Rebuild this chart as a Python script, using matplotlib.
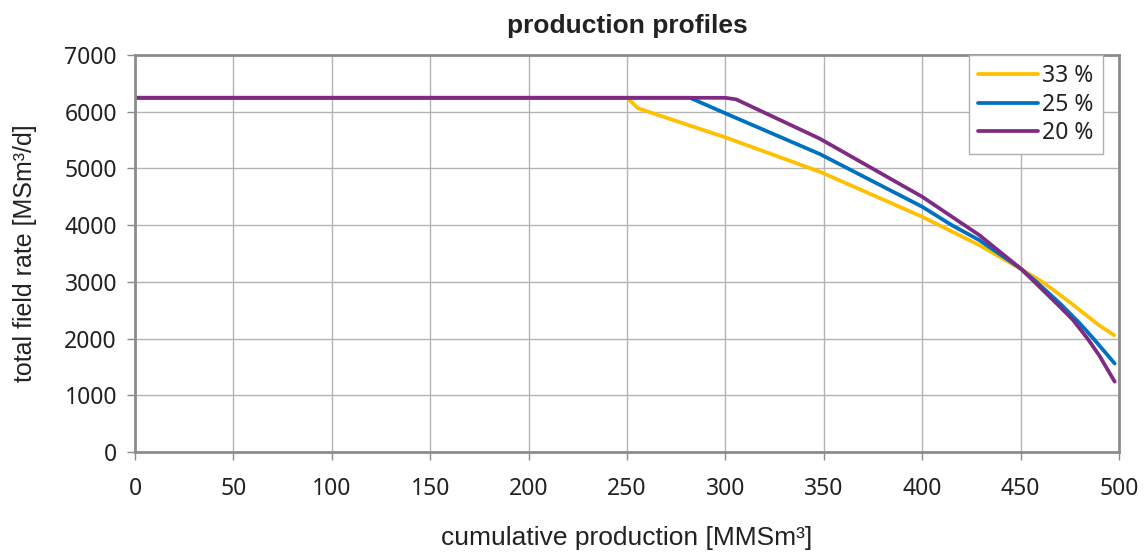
import matplotlib
matplotlib.use("Agg")
import matplotlib.pyplot as plt

# cumulative production [MMSm3] vs total field rate [MSm3/d]
x_33 = [0, 250, 255.6, 300, 348, 400, 408.5, 429, 450, 461, 475, 490, 497.5]
y_33 = [6245, 6245, 6060, 5547, 4941, 4147, 4000, 3647, 3230, 3000, 2640, 2230, 2060]

x_25 = [0, 282, 300, 348, 400, 415, 429, 450, 458, 470, 480, 487, 497.8]
y_25 = [6245, 6245, 5971, 5253, 4324, 4000, 3735, 3235, 3000, 2620, 2270, 2000, 1560]

x_20 = [0, 300, 305.4, 348, 400, 429, 450, 457, 470, 476.6, 484, 490, 497.8]
y_20 = [6245, 6245, 6218, 5524, 4500, 3824, 3235, 3000, 2560, 2328, 2000, 1700, 1240]

labels = ["33 %", "25 %", "20 %"]
colors = ["#FFC000", "#0070C0", "#7E2B83"]

x_ticks = list(range(0, 501, 50))
y_ticks = list(range(0, 7001, 1000))

fig = plt.figure(figsize=(11.45, 5.52), dpi=100)
ax = fig.add_axes([0.1179, 0.1812, 0.8594, 0.7192])

for xs, ys, lab, col in zip([x_33, x_25, x_20], [y_33, y_25, y_20], labels, colors):
    ax.plot(xs, ys, color=col, lw=2.7, label=lab, solid_capstyle="round",
            solid_joinstyle="round")

ax.set_xlim(0, 500)
ax.set_ylim(0, 7000)
ax.set_xticks(x_ticks)
ax.set_yticks(y_ticks)
ax.grid(True, color="#b4b4b4", lw=1.0)
ax.set_axisbelow(True)

for s in ax.spines.values():
    s.set_color("#8c8c8c")
    s.set_linewidth(2.0)

ax.tick_params(axis="both", direction="out", length=6, width=1, color="#8c8c8c",
               labelsize=16.5, labelcolor="#222222")
ax.tick_params(axis="x", pad=12)
ax.tick_params(axis="y", pad=7)
for t in ax.get_xticklabels() + ax.get_yticklabels():
    t.set_fontfamily("Noto Sans")

ax.set_xlabel("cumulative production [MMSm³]", fontsize=19, family="Liberation Sans",
              color="#222222", labelpad=18)
ax.set_ylabel("total field rate [MSm³/d]", fontsize=18, family="Liberation Sans",
              color="#222222", labelpad=20)
ax.set_title("production profiles", fontsize=19, family="Liberation Sans",
             fontweight="bold", color="#222222", pad=16)

leg = ax.legend(loc="upper right", bbox_to_anchor=(0.9837, 1.0), borderaxespad=0,
                fancybox=False, framealpha=1, edgecolor="#b0b0b0",
                prop={"family": "Noto Sans", "size": 16.5}, handlelength=2.6,
                labelspacing=0.2, handletextpad=0.2, borderpad=0.4)
leg.get_frame().set_linewidth(1.0)
for t in leg.get_texts():
    t.set_color("#222222")

fig.savefig("out.png", dpi=100)
